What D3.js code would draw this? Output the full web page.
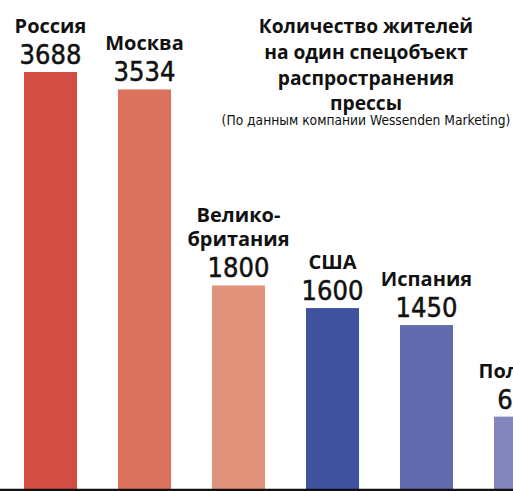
<!DOCTYPE html>
<html>
<head>
<meta charset="utf-8">
<script src="https://cdn.jsdelivr.net/npm/d3@7"></script>
<style>
  html, body { margin: 0; padding: 0; background: #fff; }
  svg { display: block; }
</style>
</head>
<body>
<svg id="chart" width="513" height="491"></svg>
<script>
const countries = ["Россия", "Москва", "Великобритания", "США", "Испания", "Польша"];
const nameLines = [["Россия"], ["Москва"], ["Велико-", "британия"], ["США"], ["Испания"], ["Польша"]];
const values = [3688, 3534, 1800, 1600, 1450, 640];
const colors = ["#d34e42", "#db725e", "#e2937b", "#3f52a0", "#636aad", "#8486be"];
const titleLines = ["Количество жителей", "на один спецобъект", "распространения", "прессы"];
const subtitle = "(По данным компании Wessenden Marketing)";

const svg = d3.select("#chart");
const W = 513, H = 491;
const baseY = 489;

const x = d3.scaleBand()
  .domain(countries)
  .range([3.5, 567.5])
  .paddingInner(0.436)
  .paddingOuter(0.218);

const y = d3.scaleLinear()
  .domain([0, 3688])
  .range([baseY, 72]);

const data = countries.map((c, i) => ({ c, v: values[i], col: colors[i], lines: nameLines[i] }));

// bars
svg.append("g")
  .selectAll("rect")
  .data(data)
  .join("rect")
  .attr("x", d => x(d.c))
  .attr("y", d => y(d.v))
  .attr("width", x.bandwidth())
  .attr("height", d => baseY - y(d.v))
  .attr("fill", d => d.col);

// value labels
svg.append("g")
  .selectAll("text")
  .data(data)
  .join("text")
  .attr("x", d => x(d.c) + x.bandwidth() / 2)
  .attr("y", d => y(d.v) - 8)
  .attr("text-anchor", "middle")
  .attr("font-family", "'DejaVu Sans Condensed', 'DejaVu Sans', sans-serif")
  .attr("font-size", 27)
  .attr("fill", "#111")
  .attr("stroke", "#111")
  .attr("stroke-width", 0.5)
  .text(d => d.v);

// name labels
const names = svg.append("g")
  .selectAll("text")
  .data(data)
  .join("text")
  .attr("text-anchor", "middle")
  .attr("font-family", "'Open Sans', 'Noto Sans', sans-serif")
  .attr("font-weight", 700)
  .attr("font-size", 20)
  .attr("fill", "#111");

names.each(function (d) {
  const n = d.lines.length;
  const cx = x(d.c) + x.bandwidth() / 2;
  const last = y(d.v) - 8 - 31;
  d3.select(this).selectAll("tspan")
    .data(d.lines)
    .join("tspan")
    .attr("x", cx)
    .attr("y", (l, i) => last - (n - 1 - i) * 24)
    .text(l => l);
});

// title
const tx = 366;
svg.append("g")
  .selectAll("text")
  .data(titleLines)
  .join("text")
  .attr("x", tx)
  .attr("y", (d, i) => 33 + i * 25.8)
  .attr("text-anchor", "middle")
  .attr("font-family", "'Open Sans', 'Noto Sans', sans-serif")
  .attr("font-weight", 700)
  .attr("font-size", 19.2)
  .attr("fill", "#111")
  .text(d => d);

svg.append("text")
  .attr("x", tx)
  .attr("y", 125)
  .attr("text-anchor", "middle")
  .attr("font-family", "'DejaVu Sans Condensed', 'DejaVu Sans', sans-serif")
  .attr("font-size", 13.7)
  .attr("fill", "#111")
  .text(subtitle);

// baseline
svg.append("line")
  .attr("x1", 0).attr("x2", W)
  .attr("y1", baseY + 1).attr("y2", baseY + 1)
  .attr("stroke", "#111")
  .attr("stroke-width", 2.5);
</script>
</body>
</html>
